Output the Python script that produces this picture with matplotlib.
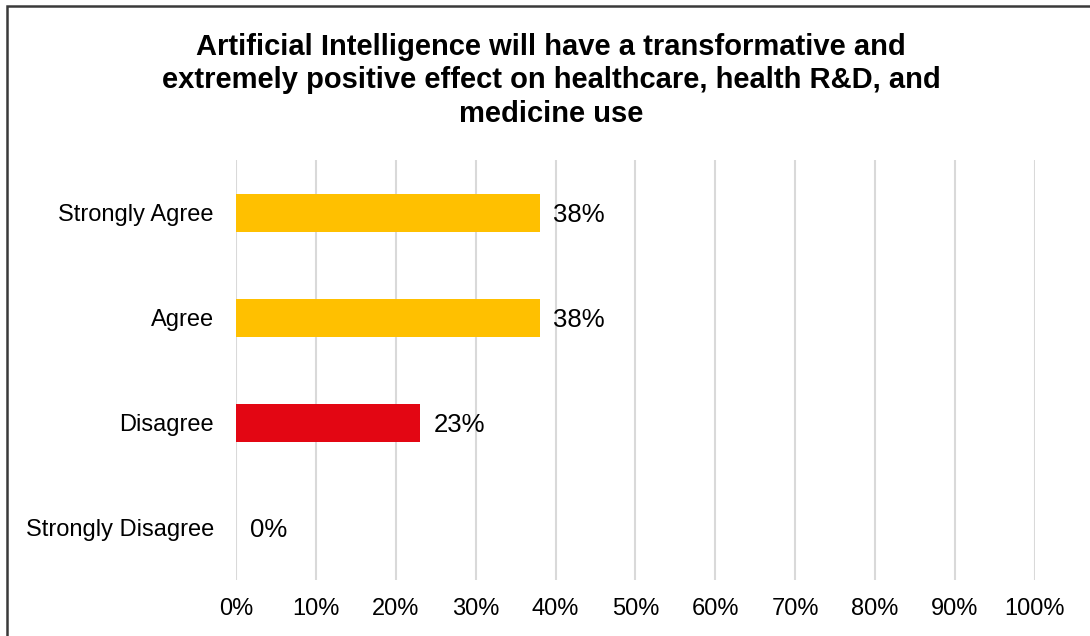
import matplotlib
matplotlib.use("Agg")
import matplotlib.pyplot as plt
from matplotlib.patches import Rectangle

plt.rcParams['font.family'] = ['Liberation Sans', 'DejaVu Sans']

categories = ["Strongly Agree", "Agree", "Disagree", "Strongly Disagree"]
values = [38, 38, 23, 0]
bar_colors = ["#FFC000", "#FFC000", "#E30613", "#E30613"]
xticks = [0, 10, 20, 30, 40, 50, 60, 70, 80, 90, 100]
xtick_labels = [f"{t}%" for t in xticks]
title = ("Artificial Intelligence will have a transformative and\n"
         "extremely positive effect on healthcare, health R&D, and\n"
         "medicine use")

fig = plt.figure(figsize=(10.9, 6.36), dpi=100)
ax = fig.add_axes([0.2165, 0.088, 0.733, 0.66])

pos = list(range(len(categories)))
ax.barh(pos, values, height=0.36, color=bar_colors, zorder=3)
ax.set_ylim(len(categories) - 0.5, -0.5)
ax.set_xlim(0, 100)
ax.set_yticks(pos)
ax.set_yticklabels(categories, fontsize=17)
ax.set_xticks(xticks)
ax.set_xticklabels(xtick_labels, fontsize=17)
ax.tick_params(axis='both', length=0)
ax.tick_params(axis='x', pad=13)
ax.tick_params(axis='y', pad=16)
ax.grid(axis='x', color='#D9D9D9', linewidth=1.5, zorder=0)
ax.set_axisbelow(True)
for s in ax.spines.values():
    s.set_visible(False)

for p, v in zip(pos, values):
    ax.annotate(f"{v}%", xy=(v, p), xytext=(10, 0), textcoords='offset points',
                va='center_baseline', ha='left', fontsize=18.5)

fig.text(551 / 1090, 1 - 33 / 636, title, ha='center', va='top',
         fontsize=21, fontweight='bold', linespacing=1.24)

# chart frame
fig.patches.append(Rectangle((6.5 / 1090, -0.05), 1.2, 1 - 5.5 / 636 + 0.05,
                             transform=fig.transFigure, fill=False,
                             edgecolor='#3A3A3A', linewidth=1.8))

fig.savefig("out.png", dpi=100)
